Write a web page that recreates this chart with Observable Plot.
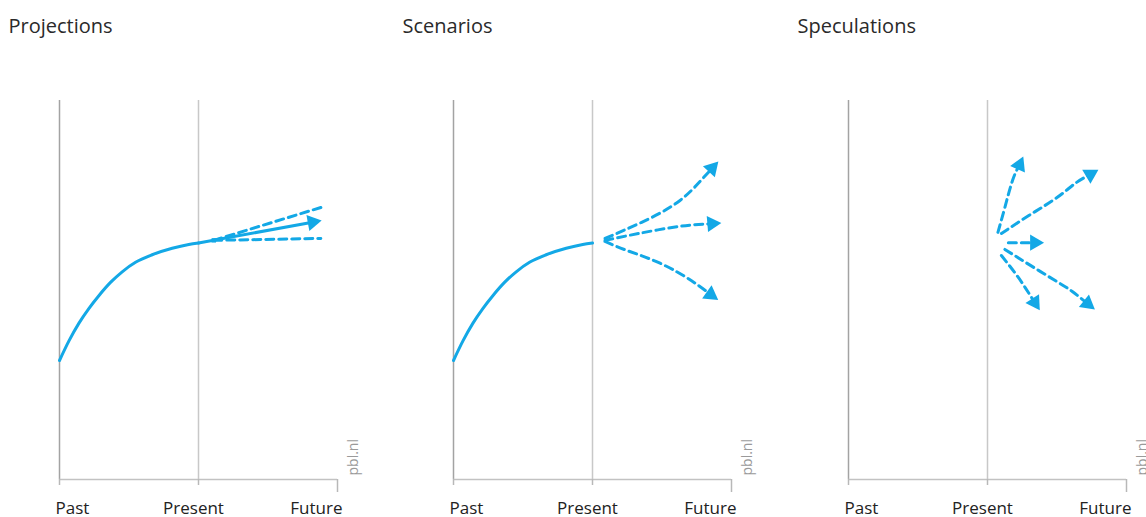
<!DOCTYPE html>
<html><head><meta charset="utf-8">
<script src="https://cdn.jsdelivr.net/npm/d3@7"></script>
<script src="https://cdn.jsdelivr.net/npm/@observablehq/plot@0.6"></script>
<style>
html,body{margin:0;padding:0;background:#fff;overflow:hidden;}
#wrap{position:relative;width:1146px;height:517px;overflow:hidden;}
.panel{position:absolute;top:0;width:395px;height:517px;}
.panel svg{max-width:none !important;}
</style></head><body><div id="wrap"></div>
<script>
// ---- data ----
const titles = ["Projections", "Scenarios", "Speculations"];
const xLabels = ["Past", "Present", "Future"];
const historyX = [0, 0.067, 0.139, 0.211, 0.283, 0.367, 0.451, 0.547, 0.667, 0.811, 0.930, 1.0];
const historyY = [31.4, 36.5, 41.2, 45.1, 48.5, 52.0, 54.8, 57.3, 59.3, 61.0, 62.0, 62.4];
// Projections
const projSolid = [[1.0, 62.4], [1.82, 67.9]];
const projUpper = [[1.11, 63.1], [1.90, 72.0]];
const projLower = [[1.11, 63.1], [1.88, 63.6]];
const projStart = [[1.11, 63.1]];
// Scenarios
const scenHigh = [[1.09, 63.6], [1.35, 67.8], [1.61, 73.1], [1.78, 78.9], [1.86, 82.1]];
const scenMid = [[1.09, 63.1], [1.33, 64.9], [1.63, 66.8], [1.86, 67.5]];
const scenLow = [[1.09, 62.8], [1.25, 60.4], [1.49, 57.0], [1.71, 52.5], [1.85, 48.8]];
// Speculations
const specA = [[1.075, 65.2], [1.125, 71.8], [1.18, 78.9], [1.23, 83.0]];
const specB = [[1.10, 64.9], [1.30, 69.7], [1.50, 74.4], [1.63, 78.1], [1.74, 80.5]];
const specC = [[1.15, 62.5], [1.34, 62.5]];
const specD = [[1.10, 59.1], [1.20, 54.4], [1.27, 50.7], [1.34, 46.7]];
const specE = [[1.125, 60.7], [1.30, 56.7], [1.50, 52.2], [1.61, 49.6], [1.72, 46.4]];

// ---- layout ----
const blue = "#13a8e6";
const W = 395, H = 517;
const M = {top: 100, right: 58, bottom: 38, left: 59};
const offsets = [0, 394, 789];

const panels = [
  {title: titles[0], history: true, markers: projStart, paths: [
    {pts: projSolid, dash: false, head: true},
    {pts: projUpper, dash: true, head: false},
    {pts: projLower, dash: true, head: false}]},
  {title: titles[1], history: true, markers: [], paths: [
    {pts: scenHigh, dash: true, head: true},
    {pts: scenMid, dash: true, head: true},
    {pts: scenLow, dash: true, head: true}]},
  {title: titles[2], history: false, markers: [], paths: [
    {pts: specA, dash: true, head: true},
    {pts: specB, dash: true, head: true},
    {pts: specC, dash: true, head: true},
    {pts: specD, dash: true, head: true},
    {pts: specE, dash: true, head: true}]}
];

const wrap = document.getElementById("wrap");
const xs = Plot.scale({x: {domain: [0, 2], range: [M.left, W - M.right]}});
const ys = Plot.scale({y: {domain: [0, 100], range: [H - M.bottom, M.top]}});

panels.forEach((p, k) => {
  const history = historyX.map((x, i) => ({x, y: historyY[i]}));
  const solidRows = [], dashRows = [], heads = [];
  p.paths.forEach((path, j) => {
    const rows = path.pts.map(([x, y]) => ({id: j, x, y}));
    (path.dash ? dashRows : solidRows).push(...rows);
    if (path.head) {
      const a = path.pts[path.pts.length - 2], b = path.pts[path.pts.length - 1];
      const dx = xs.apply(b[0]) - xs.apply(a[0]);
      const dy = ys.apply(b[1]) - ys.apply(a[1]);
      heads.push({x: b[0], y: b[1], angle: Math.atan2(dx, -dy) * 180 / Math.PI});
    }
  });
  const markers = p.markers.map(([x, y]) => ({x, y}));
  const font = "Open Sans, sans-serif";
  const chart = Plot.plot({
    width: W, height: H,
    marginTop: M.top, marginRight: M.right, marginBottom: M.bottom, marginLeft: M.left,
    style: {fontFamily: font, background: "transparent", overflow: "visible", maxWidth: "none"},
    x: {domain: [0, 2]},
    y: {domain: [0, 100], axis: null},
    marks: [
      Plot.text([p.title], {frameAnchor: "top-left", dx: -51, dy: -82, lineAnchor: "top", textAnchor: "start", fontSize: 20, fill: "#2a2a2a"}),
      Plot.ruleX([1], {y1: 0, y2: 100, stroke: "#c8c8c8", strokeWidth: 1.5}),
      Plot.ruleX([0], {y1: 0, y2: 100, stroke: "#a3a3a3", strokeWidth: 1.5}),
      Plot.ruleY([0], {x1: 0, x2: 2, stroke: "#c2c2c2", strokeWidth: 1.5}),
      Plot.axisX([0, 1], {tickSize: 6, tickFormat: () => "", stroke: "#b8b8b8", strokeWidth: 1.5, label: null}),
      Plot.axisX([2], {tickSize: 13, tickFormat: () => "", stroke: "#b8b8b8", strokeWidth: 1.5, label: null}),
      Plot.text([xLabels[0]], {x: () => 0, y: () => 0, dy: 29, dx: -4, textAnchor: "start", fontSize: 17, fill: "#222"}),
      Plot.text([xLabels[1]], {x: () => 1, y: () => 0, dy: 29, dx: -5, textAnchor: "middle", fontSize: 17, fill: "#222"}),
      Plot.text([xLabels[2]], {x: () => 2, y: () => 0, dy: 29, dx: 5, textAnchor: "end", fontSize: 17, fill: "#222"}),
      Plot.text(["pbl.nl"], {x: () => 2, y: () => 0, dx: 16, dy: -4, rotate: -90, textAnchor: "start", lineAnchor: "middle", fontSize: 14, fill: "#9a9a9a"}),
      p.history ? Plot.line(history, {x: "x", y: "y", curve: "monotone-x", stroke: blue, strokeWidth: 3}) : null,
      Plot.line(solidRows, {x: "x", y: "y", z: "id", curve: "natural", stroke: blue, strokeWidth: 3}),
      Plot.line(dashRows, {x: "x", y: "y", z: "id", curve: "natural", stroke: blue, strokeWidth: 3, strokeDasharray: "8,5"}),
      Plot.dot(markers, {x: "x", y: "y", symbol: "square", r: 2.5, fill: blue}),
      Plot.dot(heads, {x: "x", y: "y", rotate: "angle", symbol: "triangle", r: 6, fill: blue, stroke: null})
    ]
  });
  const div = document.createElement("div");
  div.className = "panel";
  div.style.left = offsets[k] + "px";
  div.appendChild(chart);
  wrap.appendChild(div);
});
</script></body></html>
